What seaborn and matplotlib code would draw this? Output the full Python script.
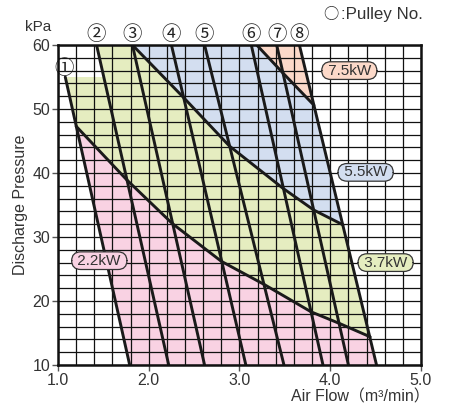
import numpy as np
import pandas as pd
import matplotlib
matplotlib.use("Agg")
import matplotlib.pyplot as plt
import seaborn as sns

# ---------------- data ----------------
pulley_no = [1, 2, 3, 4, 5, 6, 7, 8]
pulley_labels = ["①", "②", "③", "④", "⑤", "⑥", "⑦", "⑧"]
pulley_top_x = [1.08, 1.425, 1.82, 2.25, 2.615, 3.13, 3.41, 3.66]
pulley_top_y = [55, 60, 60, 60, 60, 60, 60, 60]
pulley_bottom_x = [1.79, 2.22, 2.615, 3.07, 3.49, 3.92, 4.20, 4.51]
pulley_bottom_y = [10, 10, 10, 10, 10, 10, 10, 10]

kw22_x = [1.20, 1.76, 2.26, 2.80, 3.27, 3.79, 4.10, 4.44]
kw22_y = [47.3, 38.9, 32.1, 26.2, 22.6, 18.3, 16.5, 14.4]
kw37_x = [1.82, 2.39, 2.89, 3.48, 3.82, 4.14]
kw37_y = [60.0, 51.7, 44.2, 37.6, 34.2, 31.9]
kw55_x = [3.19, 3.48, 3.82]
kw55_y = [60.0, 55.6, 50.6]

power_labels = ["7.5kW", "5.5kW", "3.7kW", "2.2kW"]
power_label_x = [4.21, 4.39, 4.61, 1.455]
power_label_y = [56.0, 40.1, 26.0, 26.3]

x_ticks = [1.0, 2.0, 3.0, 4.0, 5.0]
y_ticks = [10, 20, 30, 40, 50, 60]

c_pink = "#f9d2e3"
c_green = "#e5edc0"
c_blue = "#d3def0"
c_peach = "#fcd9c9"
label_colors = [c_peach, c_blue, c_green, c_pink]

# ---------------- figure ----------------
sns.set_theme(style="white")
plt.rcParams["font.family"] = ["Liberation Sans", "Noto Sans CJK JP", "DejaVu Sans"]
CJK = ["Noto Sans CJK JP", "DejaVu Sans"]

fig = plt.figure(figsize=(4.5, 4.15), dpi=100)
ax = fig.add_axes([58 / 450, 1 - 365 / 415, (421 - 58) / 450, (365 - 45) / 415])
ax.set_xlim(1.0, 5.0)
ax.set_ylim(10, 60)

# ---------------- filled regions ----------------
p2_x55 = np.interp(55, [pulley_bottom_y[1], pulley_top_y[1]], [pulley_bottom_x[1], pulley_top_x[1]])

pink_poly = ([(kw22_x[0], kw22_y[0]), (pulley_bottom_x[0], 10), (pulley_bottom_x[7], 10)]
             + list(zip(kw22_x[::-1], kw22_y[::-1])))
green_poly = (list(zip(kw22_x, kw22_y)) + list(zip(kw37_x[::-1], kw37_y[::-1]))
              + [(pulley_top_x[1], 60), (p2_x55, 55), (pulley_top_x[0], pulley_top_y[0])])
blue_poly = (list(zip(kw37_x, kw37_y)) + list(zip(kw55_x[::-1], kw55_y[::-1])))
peach_poly = list(zip(kw55_x, kw55_y)) + [(pulley_top_x[7], 60)]

for poly, col in [(pink_poly, c_pink), (green_poly, c_green), (blue_poly, c_blue), (peach_poly, c_peach)]:
    px, py = zip(*poly)
    ax.fill(px, py, color=col, lw=0, zorder=1)

# ---------------- grid ----------------
ax.set_axisbelow("line")
ax.set_xticks(np.arange(1.0, 5.01, 0.2), minor=True)
ax.set_yticks(np.arange(10, 61, 2), minor=True)
ax.grid(which="minor", color="#111111", linewidth=0.9)
ax.grid(which="major", color="#111111", linewidth=0.9)

# ---------------- lines ----------------
for i in range(len(pulley_no)):
    sns.lineplot(x=[pulley_top_x[i], pulley_bottom_x[i]], y=[pulley_top_y[i], pulley_bottom_y[i]],
                 sort=False, estimator=None, color="#1a1a1a", linewidth=2.1, ax=ax, zorder=3)
for cx, cy in [(kw22_x, kw22_y), (kw37_x, kw37_y), (kw55_x, kw55_y)]:
    sns.lineplot(x=cx, y=cy, sort=False, estimator=None, color="#1a1a1a", linewidth=2.1, ax=ax, zorder=3)

# ---------------- pulley number labels ----------------
for i, lab in enumerate(pulley_labels):
    off = (-0.5, 6) if i == 0 else (0, 7.5)
    ax.annotate(lab, (pulley_top_x[i], pulley_top_y[i]), xytext=off, textcoords="offset points",
                ha="center", va="center", fontsize=14, color="#222222", family=CJK,
                annotation_clip=False)

# ---------------- power labels ----------------
for lab, lx, ly, lc in zip(power_labels, power_label_x, power_label_y, label_colors):
    ax.text(lx, ly, " " + lab + " ", ha="center", va="center", fontsize=11, color="#333333", zorder=5,
            bbox=dict(boxstyle="round,pad=0.12,rounding_size=0.6", fc=lc, ec="#333333", lw=0.9))

# ---------------- axes styling ----------------
ax.set_xticks(x_ticks)
ax.set_yticks(y_ticks)
ax.set_xticklabels([f"{v:.1f}" for v in x_ticks])
ax.set_yticklabels([str(v) for v in y_ticks])
ax.tick_params(axis="both", which="major", direction="out", length=4, width=1, color="#555555",
               labelsize=11.5, labelcolor="#333333", pad=1.5, bottom=True, left=True)
ax.tick_params(axis="both", which="minor", length=0)
ax.set_xlabel("")
ax.set_ylabel("")
for s in ax.spines.values():
    s.set_color("#111111")
    s.set_linewidth(1.8)
    s.set_zorder(4)

fig.text(21 / 450, 1 - 205 / 415, "Discharge Pressure", rotation=90, ha="center", va="center",
         fontsize=11.5, color="#333333")
fig.text(430 / 450, 1 - 397 / 415, "Air Flow（m³/min）", ha="right", va="center",
         fontsize=11.5, color="#333333")
fig.text(38 / 450, 1 - 27 / 415, "kPa", ha="center", va="center", fontsize=11, color="#333333")
fig.text(331 / 450, 1 - 15 / 415, "○", ha="center", va="center", fontsize=11, color="#333333",
         family=CJK)
fig.text(423 / 450, 1 - 15 / 415, ":Pulley No.", ha="right", va="center", fontsize=12.2,
         color="#333333")

fig.savefig("out.png", dpi=100)
